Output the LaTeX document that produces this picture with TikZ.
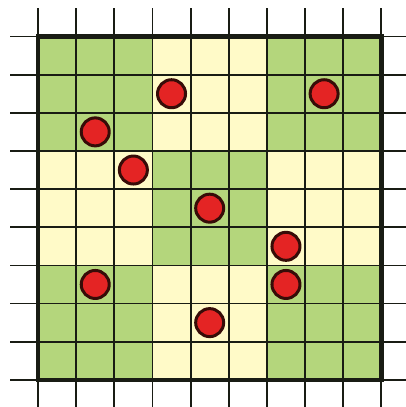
\documentclass[tikz,border=0pt]{standalone}
\definecolor{gr}{RGB}{180,214,124}
\definecolor{yl}{RGB}{255,250,200}
\definecolor{dotred}{RGB}{228,36,36}
\definecolor{dotedge}{RGB}{55,12,8}
\definecolor{ln}{RGB}{25,28,20}
\tikzset{
  gridline/.style={draw=ln, line width=1.8pt},
  border/.style={draw=ln, line width=4.5pt},
  dot/.style={circle, fill=dotred, draw=dotedge, line width=3pt, minimum size=28pt, inner sep=0pt}
}
\begin{document}
\begin{tikzpicture}[x=1pt,y=-1pt]
\useasboundingbox (0,0) rectangle (406,407);
\def\sx{38.15}
\def\xo{38}
\def\yo{36.5}
% blocks
\foreach \i in {0,1,2}{
  \foreach \j in {0,1,2}{
    \pgfmathtruncatemacro{\myparity}{mod(\i+\j,2)}
    \ifnum\myparity=0 \def\mycol{gr}\else\def\mycol{yl}\fi
    \fill[\mycol] ({\xo+3*\i*\sx},{\yo+3*\j*\sx}) rectangle ({\xo+3*(\i+1)*\sx},{\yo+3*(\j+1)*\sx});
  }
}
% grid lines
\foreach \k in {0,...,9}{
  \draw[gridline] ({\xo+\k*\sx},8) -- ({\xo+\k*\sx},407);
  \draw[gridline] (10,{\yo+\k*\sx}) -- (406,{\yo+\k*\sx});
}
\draw[border] (\xo,\yo) rectangle ({\xo+9*\sx},{\yo+9*\sx});
% dots
\foreach \c/\r/\n in {3/1/a,7/1/b,1/2/c,2/3/d,4/4/e,6/5/f,1/6/g,6/6/h,4/7/i}{
  \node[dot] (\n) at ({\xo+(\c+0.5)*\sx},{\yo+(\r+0.5)*\sx}) {};
}
\end{tikzpicture}
\end{document}
